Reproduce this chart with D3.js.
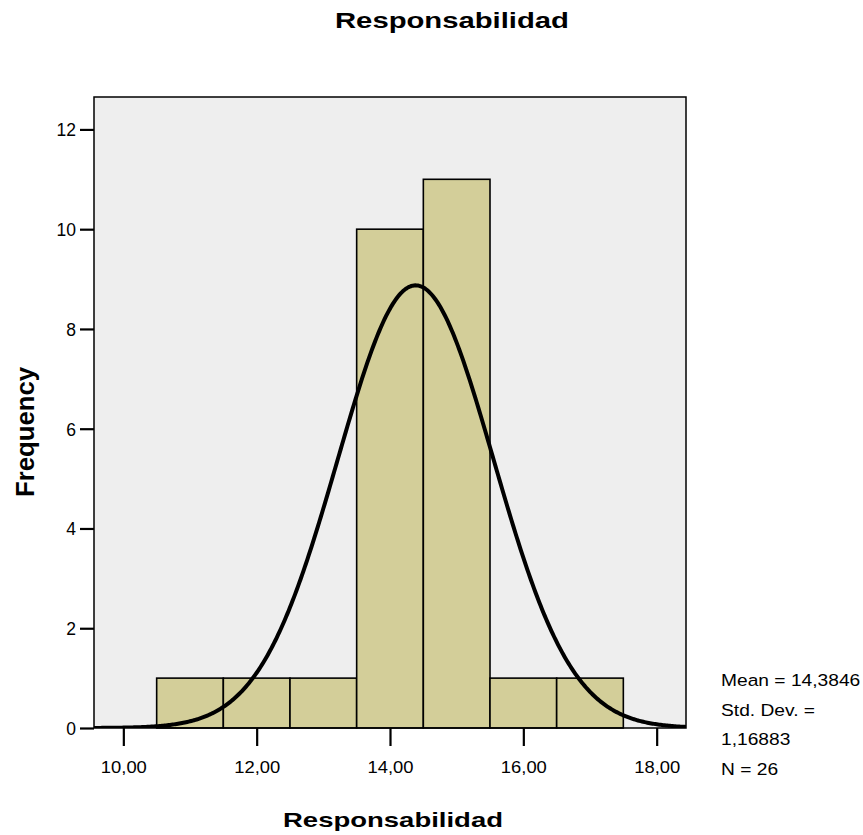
<!DOCTYPE html>
<html>
<head>
<meta charset="utf-8">
<script src="https://cdn.jsdelivr.net/npm/d3@7"></script>
<style>
  body { margin: 0; background: #fff; }
  svg { display: block; font-family: "Liberation Sans", Arial, sans-serif; }
</style>
</head>
<body>
<svg id="chart" width="863" height="835"></svg>
<script>
// ---- data ----
const binStarts = [10.5, 11.5, 12.5, 13.5, 14.5, 15.5, 16.5];
const binWidth = 1;
const frequencies = [1, 1, 1, 10, 11, 1, 1];
const yTicks = [0, 2, 4, 6, 8, 10, 12];
const xTicks = [10, 12, 14, 16, 18];
const meanValue = 14.3846;
const stdDev = 1.16883;
const nValue = 26;
const statLines = ["Mean = 14,3846", "Std. Dev. =", "1,16883", "N = 26"];
const chartTitle = "Responsabilidad";
const xTitle = "Responsabilidad";
const yTitle = "Frequency";

// ---- layout ----
const svg = d3.select("#chart");
const L = 94, R = 686, T = 97, B = 728;
const x = d3.scaleLinear().domain([9.56, 18.44]).range([L, R]);
const y = d3.scaleLinear().domain([0, 12.65]).range([B, T]);

// plot background
svg.append("rect").attr("x", L).attr("y", T).attr("width", R - L).attr("height", B - T)
  .attr("fill", "#eeeeee");

const clip = svg.append("clipPath").attr("id", "pc");
clip.append("rect").attr("x", L).attr("y", T).attr("width", R - L).attr("height", B - T);

// bars
svg.append("g").selectAll("rect").data(binStarts).join("rect")
  .attr("x", d => x(d))
  .attr("y", (d, i) => y(frequencies[i]))
  .attr("width", d => x(d + binWidth) - x(d))
  .attr("height", (d, i) => y(0) - y(frequencies[i]))
  .attr("fill", "#d3ce99")
  .attr("stroke", "#000")
  .attr("stroke-width", 1.6);

// normal curve
const curvePts = d3.range(9.5, 18.5001, 0.02).map(v => [v,
  nValue * binWidth / (stdDev * Math.sqrt(2 * Math.PI)) * Math.exp(-0.5 * Math.pow((v - meanValue) / stdDev, 2))]);
svg.append("path").datum(curvePts)
  .attr("clip-path", "url(#pc)")
  .attr("fill", "none").attr("stroke", "#000").attr("stroke-width", 4)
  .attr("d", d3.line().x(d => x(d[0])).y(d => y(d[1])));

// frame
svg.append("rect").attr("x", L).attr("y", T).attr("width", R - L).attr("height", B - T)
  .attr("fill", "none").attr("stroke", "#000").attr("stroke-width", 1.5);

// y axis
const yAxis = svg.append("g").attr("transform", `translate(${L},0)`)
  .call(d3.axisLeft(y).tickValues(yTicks).tickSize(14).tickPadding(4).tickFormat(d3.format("d")));
yAxis.select(".domain").remove();
yAxis.selectAll(".tick line").attr("stroke", "#000").attr("stroke-width", 2.2);
yAxis.selectAll(".tick text").attr("font-size", 17.5).attr("fill", "#000")
  .attr("font-family", "Liberation Sans, Arial, sans-serif").attr("dy", "0.36em");

// x axis
const fmtX = d => d.toFixed(2).replace(".", ",");
const xAxis = svg.append("g").attr("transform", `translate(0,${B})`)
  .call(d3.axisBottom(x).tickValues(xTicks).tickSize(18).tickPadding(15).tickFormat(fmtX));
xAxis.select(".domain").remove();
xAxis.selectAll(".tick line").attr("stroke", "#000").attr("stroke-width", 2.2);
xAxis.selectAll(".tick text").attr("font-size", 17).attr("fill", "#000")
  .attr("textLength", 46).attr("lengthAdjust", "spacingAndGlyphs")
  .attr("font-family", "Liberation Sans, Arial, sans-serif");

// stats
svg.append("g").selectAll("text").data(statLines).join("text")
  .attr("transform", (d, i) => `translate(721,${686 + i * 29.7}) scale(1.13,1)`)
  .attr("font-size", 17).attr("fill", "#000")
  .text(d => d);

// titles
svg.append("text").attr("x", 452).attr("y", 28).attr("text-anchor", "middle")
  .attr("font-size", 22.5).attr("font-weight", "bold")
  .attr("textLength", 234).attr("lengthAdjust", "spacingAndGlyphs")
  .text(chartTitle);
svg.append("text").attr("x", 393).attr("y", 827).attr("text-anchor", "middle")
  .attr("font-size", 20.5).attr("font-weight", "bold")
  .attr("textLength", 220).attr("lengthAdjust", "spacingAndGlyphs")
  .text(xTitle);
svg.append("text").attr("transform", "translate(34,432) rotate(-90)").attr("text-anchor", "middle")
  .attr("font-size", 25).attr("font-weight", "bold")
  .attr("textLength", 130).attr("lengthAdjust", "spacingAndGlyphs")
  .text(yTitle);
</script>
</body>
</html>
